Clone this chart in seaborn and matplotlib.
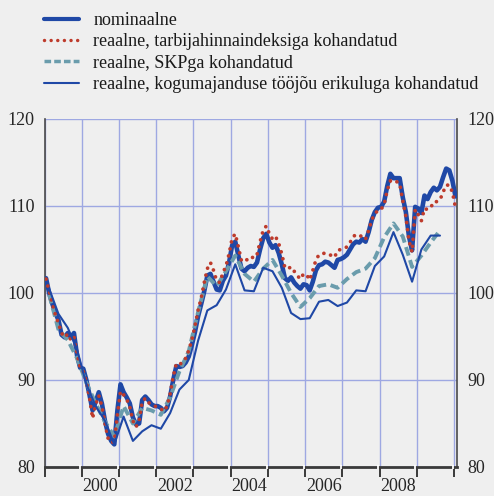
import numpy as np
import pandas as pd
import matplotlib
matplotlib.use("Agg")
import matplotlib.pyplot as plt
from matplotlib.lines import Line2D
import seaborn as sns

# Effective exchange rate indices (monthly nominal and CPI-based, quarterly GDP deflator and ULC based)
nominal = [
    101.7, 100.0, 98.8, 97.7, 96.9, 95.2, 94.9, 95.4, 94.9, 95.4, 92.8, 91.4,
    91.3, 90.0, 88.3, 86.5, 87.5, 88.6, 87.3, 85.3, 83.8, 83.0, 82.6, 86.5,
    89.5, 88.6, 88.0, 87.3, 85.7, 84.9, 85.0, 87.7, 88.1, 87.7, 87.2, 87.0,
    87.0, 86.8, 86.4, 86.8, 88.1, 90.0, 91.6, 91.5, 91.6, 92.0, 92.7, 94.0,
    95.5, 97.3, 98.7, 100.2, 102.0, 102.2, 101.3, 100.4, 100.3, 101.4, 102.0, 103.5,
    105.5, 105.9, 104.3, 102.8, 102.5, 102.9, 103.1, 103.0, 103.5, 105.0, 106.3, 106.8,
    105.8, 105.2, 105.5, 104.6, 103.3, 101.7, 101.4, 101.8, 101.2, 100.8, 100.5, 101.0,
    100.9, 100.3, 101.3, 102.6, 103.2, 103.3, 103.6, 103.5, 103.2, 102.9, 103.8, 103.9,
    104.1, 104.4, 105.0, 105.6, 105.9, 105.8, 106.2, 105.9, 107.0, 108.4, 109.3, 109.8,
    109.9, 110.5, 112.3, 113.7, 113.2, 113.2, 113.2, 111.0, 109.3, 106.5, 104.9, 109.9,
    109.7, 109.2, 111.2, 110.8, 111.6, 112.1, 111.8, 112.2, 113.3, 114.3, 114.1, 112.9, 111.1,
]
cpi_real = [
    101.6, 100.2, 98.8, 97.5, 96.5, 95.4, 94.9, 95.3, 94.6, 95.0, 93.0, 91.4,
    91.0, 89.8, 88.0, 85.6, 87.2, 88.2, 87.0, 85.0, 83.3, 82.8, 82.9, 86.0,
    88.7, 88.3, 87.8, 86.9, 85.3, 84.6, 85.3, 87.5, 87.9, 87.4, 87.2, 87.0,
    86.9, 86.7, 86.4, 87.0, 88.4, 90.4, 91.9, 91.8, 92.0, 92.5, 93.4, 94.6,
    96.2, 98.0, 99.4, 101.2, 102.8, 103.5, 102.6, 101.4, 101.2, 102.3, 103.1, 104.5,
    106.3, 106.8, 105.3, 103.7, 103.6, 103.9, 104.2, 104.0, 104.4, 105.9, 107.2, 107.7,
    106.8, 106.2, 106.5, 105.7, 104.5, 102.9, 102.8, 103.0, 102.5, 102.0, 101.6, 102.2,
    102.1, 101.5, 102.6, 103.8, 104.4, 104.5, 104.6, 104.5, 104.3, 104.1, 104.9, 105.0,
    105.1, 105.3, 105.8, 106.5, 106.7, 106.5, 106.6, 106.2, 107.2, 108.4, 109.1, 109.5,
    109.6, 110.2, 111.8, 112.9, 112.7, 112.8, 112.6, 110.6, 108.8, 106.0, 104.7, 109.6,
    109.0, 108.3, 109.7, 109.6, 109.8, 110.5, 110.5, 110.7, 111.6, 112.4, 112.4, 111.6, 109.8,
]
gdp_real = [
    99.8, 95.8, 94.6, 92.5, 89.7, 87.3, 85.2, 83.5, 87.0, 85.0,
    86.8, 86.5, 86.0, 88.0, 91.0, 93.3, 97.8, 101.9, 100.8, 102.5,
    104.3, 102.2, 101.3, 102.8, 103.8, 102.0, 100.0, 98.4, 99.4, 100.8,
    101.0, 100.6, 101.6, 102.4, 102.8, 104.0, 106.4, 108.0, 106.5, 103.0,
    104.3, 105.8, 107.2,
]
ulc_real = [
    100.5, 97.6, 96.0, 93.5, 89.5, 87.0, 85.3, 82.6, 85.8, 83.0,
    84.1, 84.8, 84.4, 86.2, 88.9, 90.0, 94.5, 98.0, 98.6, 100.4,
    103.3, 100.3, 100.2, 102.9, 102.5, 100.6, 97.7, 97.0, 97.1, 99.0,
    99.2, 98.5, 98.9, 100.3, 100.2, 103.1, 104.2, 107.0, 104.4, 101.3,
    105.0, 106.6, 106.6,
]
series_labels = [
    "nominaalne",
    "reaalne, tarbijahinnaindeksiga kohandatud",
    "reaalne, SKPga kohandatud",
    "reaalne, kogumajanduse tööjõu erikuluga kohandatud",
]
year_labels = ["2000", "2002", "2004", "2006", "2008"]
year_label_pos = [2000.5, 2002.5, 2004.5, 2006.5, 2008.5]
y_ticks = [80, 90, 100, 110, 120]

# time axis: mid-month and mid-quarter positions starting January 1999
t_month = 1999 + (np.arange(len(nominal)) + 0.5) / 12
t_quarter = 1999 + (3 * np.arange(len(gdp_real)) + 1.5) / 12
monthly = pd.DataFrame({"t": t_month, "nominal": nominal, "cpi": cpi_real})
quarterly = pd.DataFrame({"t": t_quarter, "gdp": gdp_real, "ulc": ulc_real})

BG = "#EFEFEF"
BLUE = "#1F48A6"
RED = "#BE3B2C"
TEAL = "#6A9CAC"
GRID = "#9EA8E2"
AXIS = "#3A3A3A"

sns.set_theme(style="white")
plt.rcParams["font.family"] = ["Liberation Serif", "DejaVu Serif"]
plt.rcParams["text.color"] = "#1A1A1A"

fig = plt.figure(figsize=(4.94, 4.96), dpi=100, facecolor=BG)
ax = fig.add_axes([44.5 / 494, 1 - 467 / 496, (457.3 - 44.5) / 494, (467 - 119) / 496])
ax.set_facecolor(BG)

sns.lineplot(data=monthly, x="t", y="nominal", ax=ax, color=BLUE, linewidth=3.3,
             solid_joinstyle="round", zorder=3)
sns.lineplot(data=quarterly, x="t", y="gdp", ax=ax, color=TEAL, linewidth=2.8,
             linestyle=(0, (2.3, 1.2)), zorder=4)
sns.lineplot(data=monthly, x="t", y="cpi", ax=ax, color=RED, linewidth=2.7,
             linestyle=(0, (0.01, 1.9)), dash_capstyle="round", zorder=5)
sns.lineplot(data=quarterly, x="t", y="ulc", ax=ax, color=BLUE, linewidth=1.5,
             solid_joinstyle="round", zorder=6)

ax.set_xlim(1999.0, 2010.09)
ax.set_ylim(80, 120)
ax.set_xlabel("")
ax.set_ylabel("")

# year boundaries as major ticks/grid, labels centred inside the year
ax.set_xticks(np.arange(1999, 2011))
ax.set_xticklabels([])
ax.set_xticks(year_label_pos, minor=True)
ax.set_xticklabels(year_labels, minor=True, fontsize=13)
ax.tick_params(axis="x", which="major", direction="out", length=7, width=1.4,
               color=AXIS, bottom=True)
ax.tick_params(axis="x", which="minor", length=0, pad=8)

ax.set_yticks(y_ticks)
ax.set_yticklabels([str(v) for v in y_ticks], fontsize=13)
ax.tick_params(axis="y", length=0, pad=7, left=False, right=False,
               labelleft=True, labelright=True)

ax.set_axisbelow(True)
ax.grid(True, which="major", color=GRID, linewidth=1.0)

for side in ("left", "right"):
    ax.spines[side].set_color("#4A4A4A")
    ax.spines[side].set_linewidth(1.2)
ax.spines["bottom"].set_color(AXIS)
ax.spines["bottom"].set_linewidth(2.0)
ax.spines["top"].set_visible(False)

# small white breaks in the base line just before each year tick
for yr in range(2000, 2011):
    ax.plot([yr - 0.035, yr - 0.035], [-0.005, 0.005], transform=ax.get_xaxis_transform(),
            color="white", linewidth=1.3, clip_on=False, zorder=7, solid_capstyle="butt")

handles = [
    Line2D([], [], color=BLUE, linewidth=3.0),
    Line2D([], [], color=RED, linewidth=2.5, linestyle=(0, (0.01, 1.9)), dash_capstyle="round"),
    Line2D([], [], color=TEAL, linewidth=2.5, linestyle=(0, (1.9, 0.9))),
    Line2D([], [], color=BLUE, linewidth=1.5),
]
fig.legend(handles, series_labels, loc="upper left", bbox_to_anchor=(44 / 494, 1 - 12 / 496),
           frameon=False, fontsize=13, handlelength=1.95, handletextpad=0.78,
           labelspacing=0.24, borderpad=0, borderaxespad=0)

fig.savefig("out.png", dpi=100, facecolor=BG)
